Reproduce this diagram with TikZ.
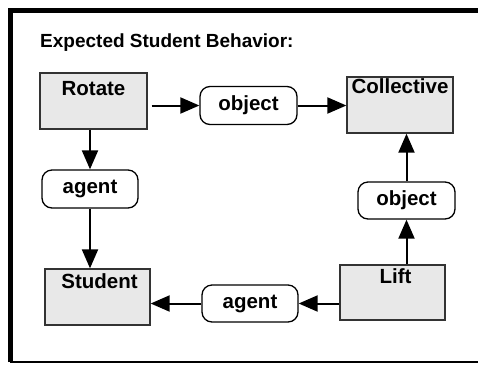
\documentclass[tikz,border=0pt]{standalone}
\usepackage{fontspec}
\setmainfont{Liberation Sans}
\usetikzlibrary{arrows.meta}
\begin{document}
\begin{tikzpicture}[x=1pt,y=-1pt,
  lblfont/.style={font=\fontsize{20.5}{24}\selectfont\bfseries},
  concept/.style={rectangle, draw=black!80, line width=1.3pt, fill=black!9,
    minimum width=106pt, minimum height=56pt, inner sep=0pt},
  cname/.style={lblfont, anchor=north, inner sep=0pt},
  relation/.style={rectangle, rounded corners=10pt, draw=black, line width=1.3pt,
    fill=white, minimum width=97pt, minimum height=38pt, inner sep=0pt, lblfont},
  link/.style={line width=2pt, -{Triangle[length=19pt,width=16pt]}}]
\useasboundingbox (0,0) rectangle (478,365);

% outer frame, open on the right
\draw[line width=5pt] (10,362) -- (10,10.5) -- (482,10.5);
\draw[line width=2pt] (10,361.5) -- (482,361.5);

\node[font=\fontsize{19}{22}\selectfont\bfseries, anchor=base west, inner sep=0pt]
  (title) at (40,47) {Expected Student Behavior:};

% concept boxes
\node[concept, minimum width=107pt] (rotate) at (93.5,101) {};
\node[cname] (rotateT) at ([yshift=-9pt]rotate.north) {Rotate};
\node[concept] (coll) at (400,105) {};
\node[cname] (collT) at ([yshift=-2pt]coll.north) {Collective};
\node[concept, minimum width=105pt] (student) at (97.5,297) {};
\node[cname] (studentT) at ([yshift=-5pt,xshift=2pt]student.north) {Student};
\node[concept, minimum width=105pt, minimum height=55pt] (lift) at (392.5,292.5) {};
\node[cname] (liftT) at ([yshift=-4pt,xshift=3pt]lift.north) {Lift};

% relation ovals
\node[relation] (objA) at (248.5,105.5) {object};
\node[relation, minimum width=96pt] (agentL) at (90,189) {agent};
\node[relation, minimum height=37pt] (objB) at (406.5,200.5) {object};
\node[relation, minimum width=96pt, minimum height=37pt] (agentB) at (250,303.5) {agent};

% connectors
\draw[link, shorten <=4pt] (objA.west -| rotate.east) -- (objA.west);
\draw[link] (objA.east) -- (objA.east -| coll.west);
\draw[link] (agentL.north |- rotate.south) -- (agentL.north);
\draw[link] (agentL.south) -- (agentL.south |- student.north);
\draw[link] (objB.south |- lift.north) -- (objB.south);
\draw[link] (objB.north) -- (objB.north |- coll.south);
\draw[link] (agentB.east -| lift.west) -- (agentB.east);
\draw[link] (agentB.west) -- (agentB.west -| student.east);
\end{tikzpicture}
\end{document}
